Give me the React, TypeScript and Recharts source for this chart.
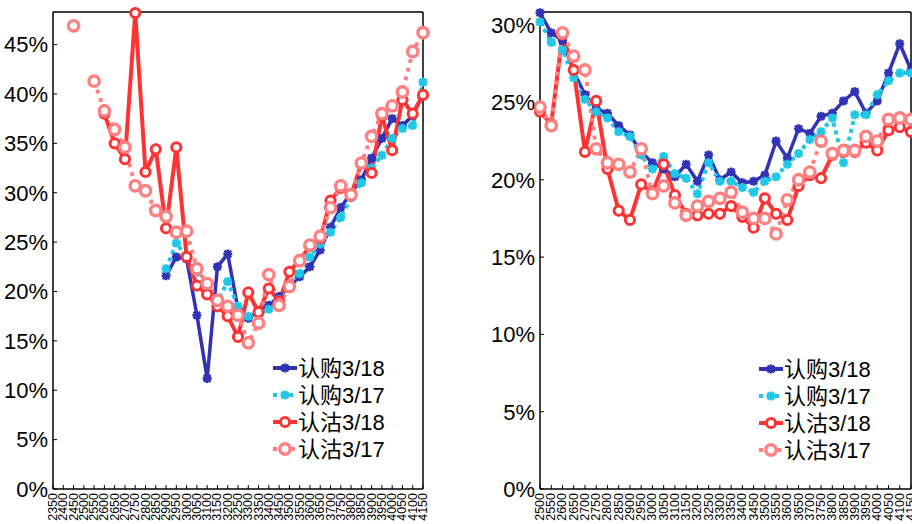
import React from 'react';
import { LineChart, Line, XAxis, YAxis } from 'recharts';

// ---------- data ----------
const leftStrikes = [2350, 2400, 2450, 2500, 2550, 2600, 2650, 2700, 2750, 2800, 2850, 2900, 2950, 3000, 3050, 3100, 3150, 3200, 3250, 3300, 3350, 3400, 3450, 3500, 3550, 3600, 3650, 3700, 3750, 3800, 3850, 3900, 3950, 4000, 4050, 4100, 4150];
const leftCall318 = [null, null, null, null, null, null, null, null, null, null, null, 21.6, 23.5, 23.3, 17.6, 11.2, 22.5, 23.8, 18.2, 17.3, 18.0, 18.6, 19.5, 20.5, 21.5, 22.5, 24.2, 26.5, 28.5, 30.0, 31.3, 33.5, 35.5, 37.5, 36.8, 37.8, 40.0];
const leftCall317 = [null, null, null, null, null, null, null, null, null, null, null, 22.3, 24.9, 23.5, 22.0, 20.0, 19.0, 21.0, 18.5, 17.5, 17.8, 18.2, 19.2, 20.5, 21.8, 23.5, 24.8, 26.0, 27.5, 29.5, 31.0, 32.5, 33.8, 35.5, 36.5, 36.8, 41.2];
const leftPut318 = [null, null, null, null, null, 38.0, 35.0, 33.4, 48.2, 32.1, 34.4, 26.4, 34.6, 23.5, 20.6, 19.7, 18.5, 17.5, 15.4, 19.9, 17.9, 20.3, 19.0, 22.0, 23.2, 24.6, 25.4, 29.2, 30.5, 29.7, 33.0, 32.0, 37.8, 34.3, 39.4, 38.0, 39.9];
const leftPut317 = [null, null, 46.9, null, 41.3, 38.3, 36.4, 34.6, 30.7, 30.2, 28.2, 27.6, 26.0, 26.1, 22.3, 20.8, 19.1, 18.5, 17.6, 14.8, 16.8, 21.7, 18.6, 20.5, 23.1, 24.7, 25.6, 28.5, 30.7, 29.8, 33.0, 35.7, 38.0, 38.8, 40.2, 44.3, 46.2];

const rightStrikes = [2500, 2550, 2600, 2650, 2700, 2750, 2800, 2850, 2900, 2950, 3000, 3050, 3100, 3150, 3200, 3250, 3300, 3350, 3400, 3450, 3500, 3550, 3600, 3650, 3700, 3750, 3800, 3850, 3900, 3950, 4000, 4050, 4100, 4150];
const rightCall318 = [30.8, 29.5, 29.0, 27.0, 25.5, 24.6, 24.3, 23.5, 22.9, 21.8, 21.1, 20.7, 20.2, 21.0, 19.9, 21.6, 20.0, 20.5, 19.8, 19.9, 20.3, 22.5, 21.4, 23.3, 23.0, 24.1, 24.3, 25.1, 25.7, 24.3, 25.1, 26.9, 28.8, 27.1];
const rightCall317 = [30.2, 28.9, 28.4, 26.6, 25.2, 24.4, 24.0, 23.1, 22.8, 21.6, 20.7, 21.5, 20.4, 20.1, 19.1, 21.1, 19.9, 19.9, 19.5, 19.2, 19.9, 20.2, 21.0, 21.7, 22.6, 23.1, 24.0, 21.1, 24.2, 24.2, 25.5, 26.4, 26.9, 26.9];
const rightPut318 = [24.4, 23.6, 29.4, 27.1, 21.8, 25.1, 20.7, 18.0, 17.4, 19.7, 19.2, 21.0, 19.0, 17.8, 17.7, 17.8, 17.8, 18.3, 17.6, 16.9, 18.8, 17.8, 17.4, 19.6, 20.3, 20.1, 21.6, 21.8, 21.8, 22.4, 21.9, 23.2, 23.4, 23.1];
const rightPut317 = [24.7, 23.5, 29.5, 28.0, 27.1, 22.0, 21.1, 21.0, 20.5, 22.0, 19.1, 19.6, 18.5, 17.7, 18.3, 18.6, 18.8, 19.2, 17.9, 17.5, 17.5, 16.5, 18.7, 20.0, 20.5, 22.5, 21.7, 21.9, 21.9, 22.8, 22.5, 23.9, 24.0, 23.9];

const leftYTicks = [0, 5, 10, 15, 20, 25, 30, 35, 40, 45];
const rightYTicks = [0, 5, 10, 15, 20, 25, 30];
const seriesNames = ['认购3/18', '认购3/17', '认沽3/18', '认沽3/17'];

// ---------- styles ----------
const BLUE = '#3232B4';
const CYAN = '#1EC8E6';
const RED = '#FF3333';
const PINK = '#FF8080';
const FONT = "'Liberation Sans', Arial, 'Noto Sans CJK SC', sans-serif";

function buildRows(strikes: number[], a: any[], b: any[], c: any[], d: any[]) {
  return strikes.map((s, i) => ({ strike: s, c318: a[i], c317: b[i], p318: c[i], p317: d[i] }));
}
const leftRows = buildRows(leftStrikes, leftCall318, leftCall317, leftPut318, leftPut317);
const rightRows = buildRows(rightStrikes, rightCall318, rightCall317, rightPut318, rightPut317);

const starPath = (cx: number, cy: number, s: number) =>
  `M${cx - s},${cy}L${cx + s},${cy}M${cx},${cy - s}L${cx},${cy + s}` +
  `M${cx - s * 0.75},${cy - s * 0.75}L${cx + s * 0.75},${cy + s * 0.75}` +
  `M${cx - s * 0.75},${cy + s * 0.75}L${cx + s * 0.75},${cy - s * 0.75}`;

const makeStarDot = (color: string) => (props: any) => {
  const { cx, cy, index, value } = props;
  if (cx == null || cy == null || value == null) return <g key={`s${index}`} />;
  return <path key={`s${index}`} d={starPath(cx, cy, 4.5)} stroke={color} strokeWidth={2.6} fill="none" />;
};
const makeCircleDot = (color: string, r: number, sw: number) => (props: any) => {
  const { cx, cy, index, value } = props;
  if (cx == null || cy == null || value == null) return <g key={`c${index}`} />;
  return <circle key={`c${index}`} cx={cx} cy={cy} r={r} stroke={color} strokeWidth={sw} fill="#fff" />;
};

const XTick = (props: any) => {
  const { x, y, payload } = props;
  return (
    <text x={x} y={y} transform={`rotate(-90 ${x} ${y})`} textAnchor="end" dominantBaseline="central"
      fontSize={12.5} fontFamily={FONT} fill="#000">{payload.value}</text>
  );
};

function Panel(props: { rows: any[]; strikes: number[]; yTicks: number[]; yMax: number; width: number; marginRight: number }) {
  const { rows, strikes, yTicks, yMax, width, marginRight } = props;
  const xMin = strikes[0];
  const xMax = strikes[strikes.length - 1];
  const axisStroke = { stroke: '#000', strokeWidth: 1.5 };
  return (
    <LineChart width={width} height={524} data={rows} margin={{ top: 11, right: marginRight, bottom: 0, left: 0 }}>
      <XAxis dataKey="strike" type="number" domain={[xMin, xMax]} ticks={strikes} interval={0}
        tickSize={-4} tickMargin={8} height={35} tick={<XTick />} axisLine={axisStroke} tickLine={{ stroke: '#000' }} />
      <XAxis xAxisId="top" orientation="top" dataKey="strike" type="number" domain={[xMin, xMax]} ticks={strikes}
        interval={0} tickSize={-4} height={1} tick={false} axisLine={axisStroke} tickLine={{ stroke: '#000' }} />
      <YAxis type="number" domain={[0, yMax]} ticks={yTicks} interval={0} width={53} tickSize={-4} tickMargin={9}
        tickFormatter={(v: number) => `${v}%`} tick={{ fontSize: 22, fill: '#000', fontFamily: FONT }}
        axisLine={axisStroke} tickLine={{ stroke: '#000' }} />
      <YAxis yAxisId="r" orientation="right" type="number" domain={[0, yMax]} ticks={yTicks} interval={0} width={1}
        tickSize={-4} tick={false} axisLine={axisStroke} tickLine={{ stroke: '#000' }} />
      <Line dataKey="c318" stroke={BLUE} strokeWidth={3.5} dot={makeStarDot(BLUE)} isAnimationActive={false} activeDot={false} />
      <Line dataKey="c317" stroke={CYAN} strokeWidth={4} strokeDasharray="4 4" dot={makeStarDot(CYAN)} isAnimationActive={false} activeDot={false} />
      <Line dataKey="p318" stroke={RED} strokeWidth={4} dot={makeCircleDot(RED, 4.6, 3)} isAnimationActive={false} activeDot={false} />
      <Line dataKey="p317" stroke={PINK} strokeWidth={4} strokeDasharray="4 5" dot={makeCircleDot(PINK, 5.2, 3.4)} isAnimationActive={false} activeDot={false} />
    </LineChart>
  );
}

function LegendBlock(props: { x: number; y: number }) {
  const { x, y } = props;
  const gap = 27;
  const items = [
    { color: BLUE, dash: undefined, kind: 'star' },
    { color: CYAN, dash: '4 4', kind: 'star' },
    { color: RED, dash: undefined, kind: 'circle', r: 4.6, sw: 3 },
    { color: PINK, dash: '4 5', kind: 'circle', r: 5.2, sw: 3.4 },
  ];
  return (
    <g>
      {items.map((it: any, i) => {
        const cy = y + i * gap;
        const cx = x + 12;
        return (
          <g key={i}>
            <line x1={x} x2={x + 24} y1={cy} y2={cy} stroke={it.color} strokeWidth={4} strokeDasharray={it.dash} />
            {it.kind === 'star'
              ? <path d={starPath(cx, cy, 4.5)} stroke={it.color} strokeWidth={2.6} fill="none" />
              : <circle cx={cx} cy={cy} r={it.r} stroke={it.color} strokeWidth={it.sw} fill="#fff" />}
            <text x={x + 25} y={cy} dominantBaseline="central" fontSize={22} fontFamily={FONT} fill="#000">{seriesNames[i]}</text>
          </g>
        );
      })}
    </g>
  );
}

export default function App() {
  return (
    <div style={{ position: 'absolute', left: 0, top: 0, width: 912, height: 524, background: '#fff', overflow: 'hidden' }}>
      <div style={{ position: 'absolute', left: 0, top: 0 }}>
        <Panel rows={leftRows} strikes={leftStrikes} yTicks={leftYTicks} yMax={48.3} width={440} marginRight={16} />
      </div>
      <div style={{ position: 'absolute', left: 487, top: 0 }}>
        <Panel rows={rightRows} strikes={rightStrikes} yTicks={rightYTicks} yMax={30.85} width={425} marginRight={0} />
      </div>
      <svg width={912} height={524} style={{ position: 'absolute', left: 0, top: 0, pointerEvents: 'none' }}>
        <LegendBlock x={273} y={368} />
        <LegendBlock x={759} y={369} />
      </svg>
    </div>
  );
}
